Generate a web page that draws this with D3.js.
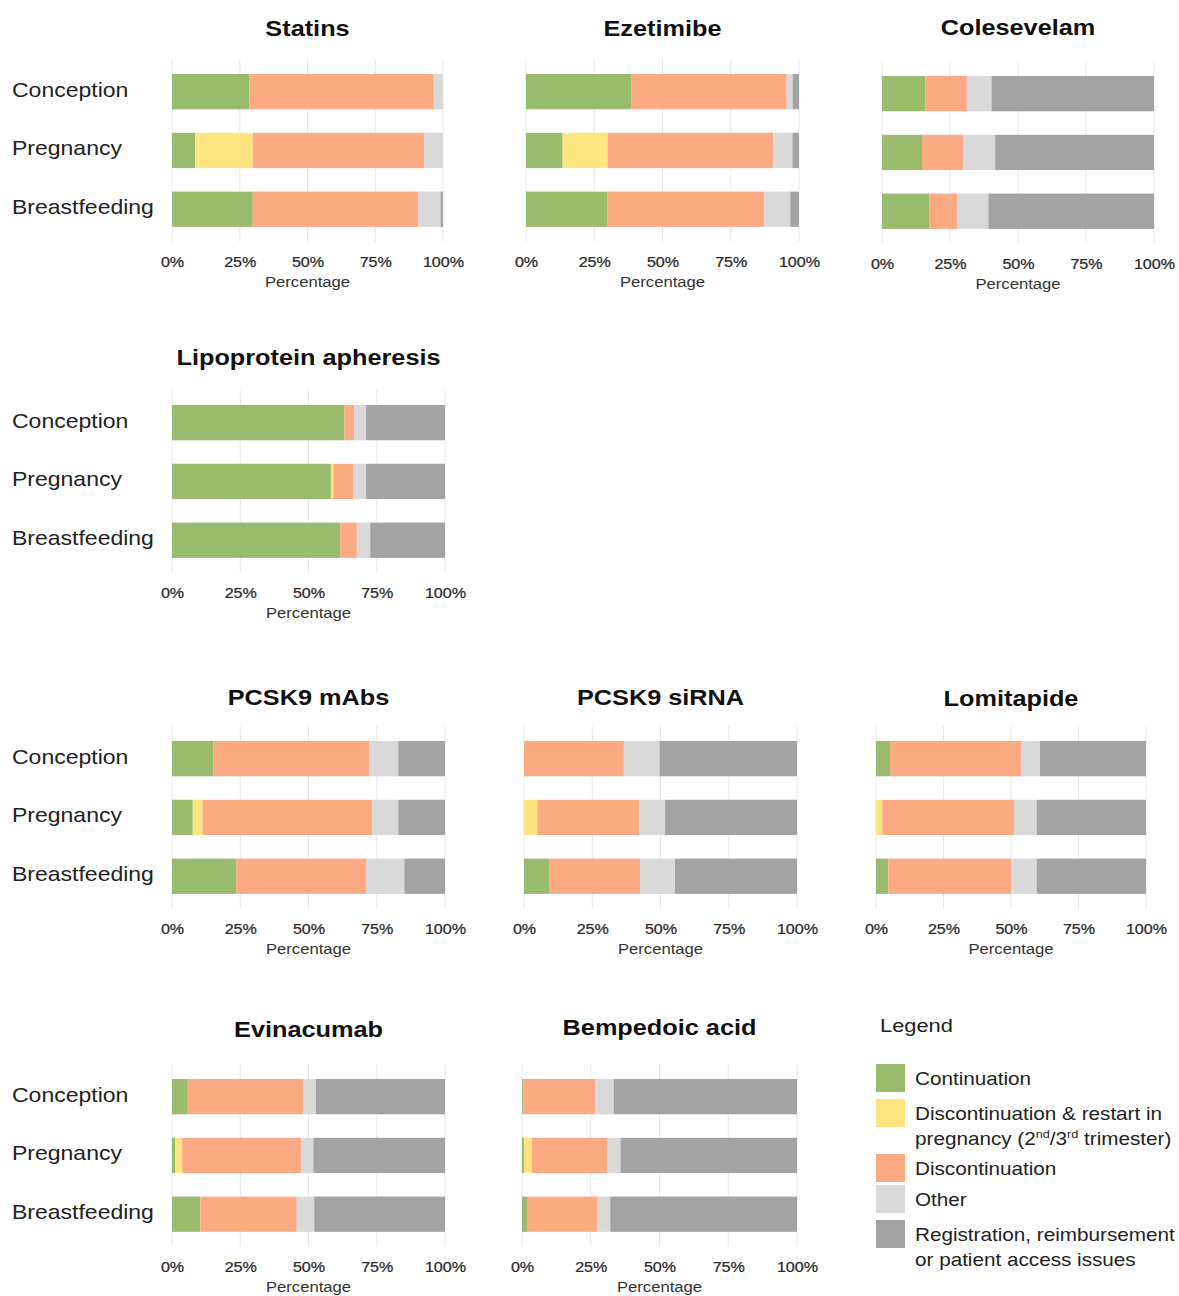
<!DOCTYPE html>
<html>
<head>
<meta charset="utf-8">
<script src="https://cdn.jsdelivr.net/npm/d3@7/dist/d3.min.js"></script>
<style>
  html, body { margin: 0; padding: 0; background: #fff; }
  svg { display: block; font-family: "Liberation Sans", Arial, Helvetica, sans-serif; }
</style>
</head>
<body>
<svg id="chart" width="1179" height="1296"></svg>
<script>
// Treatment options, one small multiple each
const drugs = ["Statins", "Ezetimibe", "Colesevelam", "Lipoprotein apheresis",
  "PCSK9 mAbs", "PCSK9 siRNA", "Lomitapide", "Evinacumab", "Bempedoic acid"];

// Reproductive stages (bars within a panel)
const stages = ["Conception", "Pregnancy", "Breastfeeding"];

// Response categories (stack order, left to right)
const seriesNames = ["Continuation",
  "Discontinuation & restart in pregnancy (2nd/3rd trimester)",
  "Discontinuation", "Other",
  "Registration, reimbursement or patient access issues"];
const seriesColors = ["#9aba6e", "#fde47e", "#fcaa83", "#d9d9d9", "#a3a3a3"];

// Percentages per drug: [Conception, Pregnancy, Breastfeeding]
const continuation = [
  [28.6, 8.6, 29.8], [38.7, 13.4, 29.9], [15.9, 14.7, 17.5],
  [63.2, 58.2, 61.6], [15.2, 7.6, 23.5], [0, 0, 9.4],
  [5.2, 0, 4.6], [5.5, 1.2, 10.4], [0.6, 0.8, 1.8]];
const restart = [
  [0, 21.2, 0], [0, 16.5, 0], [0, 0, 0],
  [0, 0.9, 0], [0, 3.6, 0], [0, 4.9, 0],
  [0, 2.3, 0], [0, 2.5, 0], [0, 2.8, 0]];
const discontinuation = [
  [68.0, 63.2, 61.0], [56.8, 60.7, 57.4], [15.3, 15.3, 10.3],
  [3.5, 7.4, 6.1], [57.0, 62.2, 47.8], [36.6, 37.3, 33.1],
  [48.5, 48.8, 45.6], [42.7, 43.6, 35.3], [26.1, 27.3, 25.7]];
const other = [
  [3.4, 7.0, 8.3], [2.2, 7.0, 9.5], [9.1, 11.6, 11.3],
  [4.4, 4.6, 4.9], [10.7, 9.5, 13.8], [13.0, 9.5, 12.8],
  [7.0, 8.4, 9.3], [4.5, 4.5, 6.4], [6.6, 4.9, 4.6]];
const registration = [
  [0, 0, 0.9], [2.3, 2.4, 3.2], [59.7, 58.4, 60.9],
  [28.9, 28.9, 27.4], [17.1, 17.1, 14.9], [50.4, 48.3, 44.7],
  [39.3, 40.5, 40.5], [47.3, 48.2, 47.9], [66.7, 64.2, 67.9]];

const tickValues = [0, 25, 50, 75, 100];
const tickLabels = ["0%", "25%", "50%", "75%", "100%"];
const axisTitle = "Percentage";
const legendTitle = "Legend";

const seriesValues = [continuation, restart, discontinuation, other, registration];
const seriesKeys = ["cont", "restart", "disc", "other", "reg"];

// Panel placement: plot x-range, top of first bar, title baseline
const panels = [
  { x0: 172, x1: 443, top: 74,   titleY: 36 },
  { x0: 526, x1: 799, top: 74,   titleY: 36 },
  { x0: 882, x1: 1154, top: 76,  titleY: 35 },
  { x0: 172, x1: 445, top: 405,  titleY: 365 },
  { x0: 172, x1: 445, top: 741,  titleY: 705 },
  { x0: 524, x1: 797, top: 741,  titleY: 705 },
  { x0: 876, x1: 1146, top: 741, titleY: 706 },
  { x0: 172, x1: 445, top: 1079, titleY: 1037 },
  { x0: 522, x1: 797, top: 1079, titleY: 1035 }
];
const withStageLabels = [true, false, false, true, true, false, false, true, false];

// Type is set slightly wide: glyphs are stretched horizontally around their anchor
const SX = 1.15;
function wideText(parent, x, y) {
  return parent.append("text")
    .attr("transform", `translate(${x},${y}) scale(${SX},1)`);
}

const svg = d3.select("#chart");

const step = 58.8;
const padOuter = 0.25;
const color = d3.scaleOrdinal().domain(seriesKeys).range(seriesColors);

drugs.forEach((drug, di) => {
  const p = panels[di];
  const x = d3.scaleLinear().domain([0, 100]).range([p.x0, p.x1]);
  const rangeTop = p.top - step * padOuter;
  const y = d3.scaleBand()
    .domain(stages)
    .range([rangeTop, rangeTop + step * (stages.length - 0.4 + 2 * padOuter)])
    .paddingInner(0.4)
    .paddingOuter(padOuter);

  const rows = stages.map((s, si) => {
    const r = { stage: s };
    seriesKeys.forEach((k, ki) => { r[k] = seriesValues[ki][di][si]; });
    return r;
  });
  const stacked = d3.stack().keys(seriesKeys)(rows);

  const g = svg.append("g").attr("class", "panel");

  // vertical grid lines
  g.append("g")
    .selectAll("line")
    .data(tickValues)
    .join("line")
    .attr("x1", d => x(d)).attr("x2", d => x(d))
    .attr("y1", y.range()[0]).attr("y2", y.range()[1])
    .attr("stroke", "#e8e8e8")
    .attr("stroke-width", 1);

  // stacked bars
  g.append("g")
    .selectAll("g")
    .data(stacked)
    .join("g")
    .attr("fill", d => color(d.key))
    .selectAll("rect")
    .data(d => d)
    .join("rect")
    .attr("x", d => x(d[0]))
    .attr("y", d => y(d.data.stage))
    .attr("width", d => Math.max(0, x(d[1]) - x(d[0])))
    .attr("height", y.bandwidth());

  // x axis labels
  const axis = d3.axisBottom(x)
    .tickValues(tickValues)
    .tickFormat((d, i) => tickLabels[i])
    .tickSize(0)
    .tickPadding(0);
  const ax = g.append("g")
    .attr("transform", `translate(0,${p.top + 183})`)
    .call(axis);
  ax.select(".domain").remove();
  ax.selectAll("text")
    .attr("transform", `scale(${SX},1)`)
    .attr("font-size", 14)
    .attr("fill", "#2a2a2a")
    .attr("stroke", "#2a2a2a")
    .attr("stroke-width", 0.25)
    .attr("font-family", "Liberation Sans, Arial, sans-serif");

  wideText(g, (p.x0 + p.x1) / 2, p.top + 213)
    .attr("text-anchor", "middle")
    .attr("font-size", 14.5)
    .attr("fill", "#333")
    .text(axisTitle);

  // panel title
  wideText(g, (p.x0 + p.x1) / 2, p.titleY)
    .attr("text-anchor", "middle")
    .attr("font-size", 22)
    .attr("font-weight", "bold")
    .attr("fill", "#111")
    .text(drug);

  // stage labels on the left column
  if (withStageLabels[di]) {
    stages.forEach(s => {
      wideText(g, 12, y(s) + y.bandwidth() / 2 + 5)
        .attr("font-size", 20)
        .attr("fill", "#222")
        .text(s);
    });
  }
});

// Legend
const lg = svg.append("g").attr("class", "legend");
wideText(lg, 880, 1032)
  .attr("font-size", 19)
  .attr("fill", "#222")
  .text(legendTitle);

const legendRows = [
  { y: 1064, lines: [seriesNames[0]] },
  { y: 1099, lines: ["Discontinuation & restart in", "pregnancy (2|nd|/3|rd| trimester)"] },
  { y: 1154, lines: [seriesNames[2]] },
  { y: 1185, lines: [seriesNames[3]] },
  { y: 1220, lines: ["Registration, reimbursement", "or patient access issues"] }
];

legendRows.forEach((row, i) => {
  lg.append("rect")
    .attr("x", 876).attr("y", row.y)
    .attr("width", 29).attr("height", 28)
    .attr("fill", seriesColors[i]);
  row.lines.forEach((line, li) => {
    const t = wideText(lg, 915, row.y + 21 + li * 25)
      .attr("font-size", 18)
      .attr("fill", "#222");
    const parts = line.split("|");
    parts.forEach((part, pi) => {
      const ts = t.append("tspan").text(part);
      if (pi % 2 === 1) {
        ts.attr("font-size", 11).attr("dy", -7);
      } else if (pi > 0) {
        ts.attr("dy", 7);
      }
    });
  });
});
</script>
</body>
</html>
